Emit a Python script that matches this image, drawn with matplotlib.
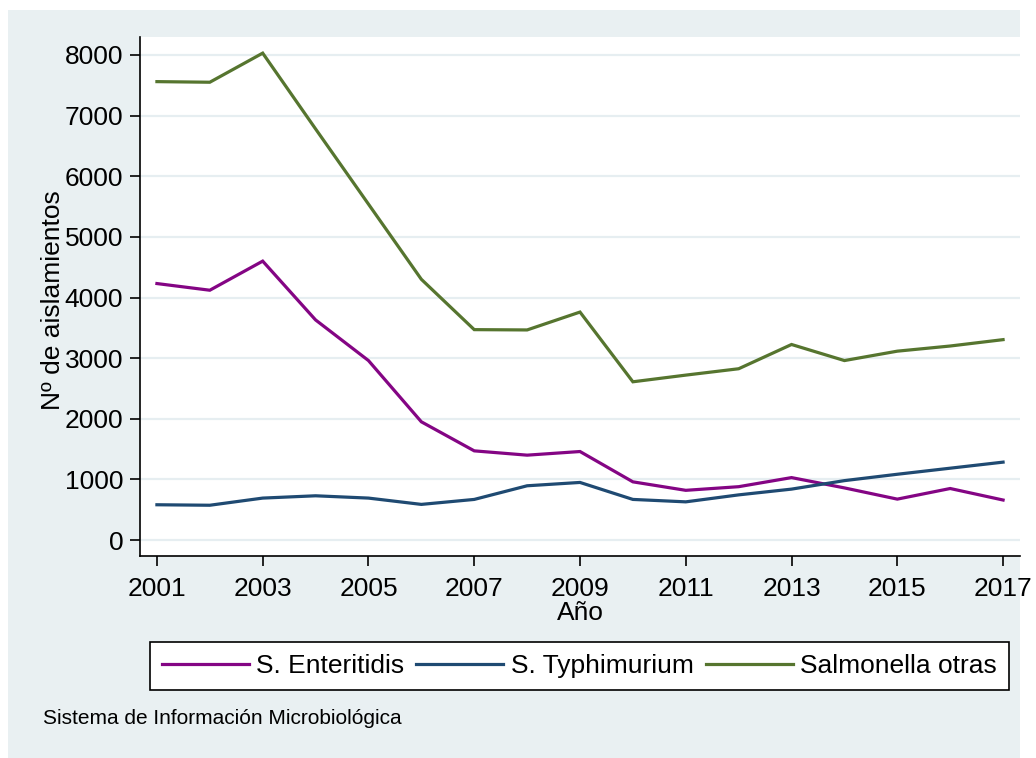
import matplotlib.pyplot as plt
from matplotlib.patches import Rectangle

# datos
anios = list(range(2001, 2018))
enteritidis = [4230, 4120, 4600, 3630, 2960, 1950, 1471, 1400, 1460, 960,
               820, 880, 1030, 860, 675, 850, 660]
typhimurium = [582, 574, 692, 730, 692, 588, 670, 895, 950, 670,
               630, 745, 840, 980, 1085, 1185, 1285]
otras = [7560, 7550, 8030, 6780, 5540, 4300, 3470, 3465, 3760, 2610,
         2720, 2825, 3225, 2960, 3115, 3200, 3305]
series = ['S. Enteritidis', 'S. Typhimurium', 'Salmonella otras']
colores = ['#840584', '#1f4a72', '#56752f']
yticks = [0, 1000, 2000, 3000, 4000, 5000, 6000, 7000, 8000]
xticks = [2001, 2003, 2005, 2007, 2009, 2011, 2013, 2015, 2017]

plt.rcParams['font.family'] = ['Liberation Sans', 'DejaVu Sans']
fondo = '#e9f0f2'
fs = 19

W, H = 1036, 758
fig = plt.figure(figsize=(W / 100, H / 100), dpi=100, facecolor='white')
fig.patches.append(Rectangle((8 / W, 0), (1020 - 8) / W, 1 - 10 / H,
                             transform=fig.transFigure, facecolor=fondo,
                             edgecolor='none', zorder=-10))

ax = fig.add_axes([140 / W, 1 - 556 / H, (1020 - 140) / W, (556 - 37) / H])
ax.set_facecolor('white')

for datos, nombre, c in zip([enteritidis, typhimurium, otras], series, colores):
    ax.plot(anios, datos, color=c, lw=2.3, label=nombre, solid_joinstyle='miter')

ax.set_xlim(2000.68, 2017.32)
ax.set_ylim(-263, 8296)
ax.set_yticks(yticks)
ax.set_xticks(xticks)
for y in yticks:
    ax.axhline(y, color='#e6eef1', lw=1.6, zorder=0)

for s in ['top', 'right']:
    ax.spines[s].set_visible(False)
for s in ['left', 'bottom']:
    ax.spines[s].set_linewidth(1.2)
ax.tick_params(axis='both', labelsize=fs, length=7, width=1.2, direction='out')
ax.tick_params(axis='y', pad=5)
ax.tick_params(axis='x', pad=8)

fig.text(53 / W, 1 - 300 / H, 'Nº de aislamientos', rotation=90,
         ha='center', va='center', fontsize=fs)
fig.text(580 / W, 1 - 613 / H, 'Año', ha='center', va='center', fontsize=fs)

leg = fig.legend(loc='upper left', bbox_to_anchor=(150 / W, 1 - 642 / H),
                 ncol=3, fontsize=fs, frameon=True, fancybox=False, framealpha=1,
                 handlelength=3.3, handletextpad=0.28, columnspacing=0.45,
                 borderpad=0.45, borderaxespad=0)
leg.get_frame().set_edgecolor('black')
leg.get_frame().set_linewidth(1.2)
leg.get_frame().set_facecolor('white')

fig.text(43 / W, 1 - 718 / H, 'Sistema de Información Microbiológica',
         ha='left', va='center', fontsize=15)

fig.savefig('out.png', dpi=100, facecolor='white')
